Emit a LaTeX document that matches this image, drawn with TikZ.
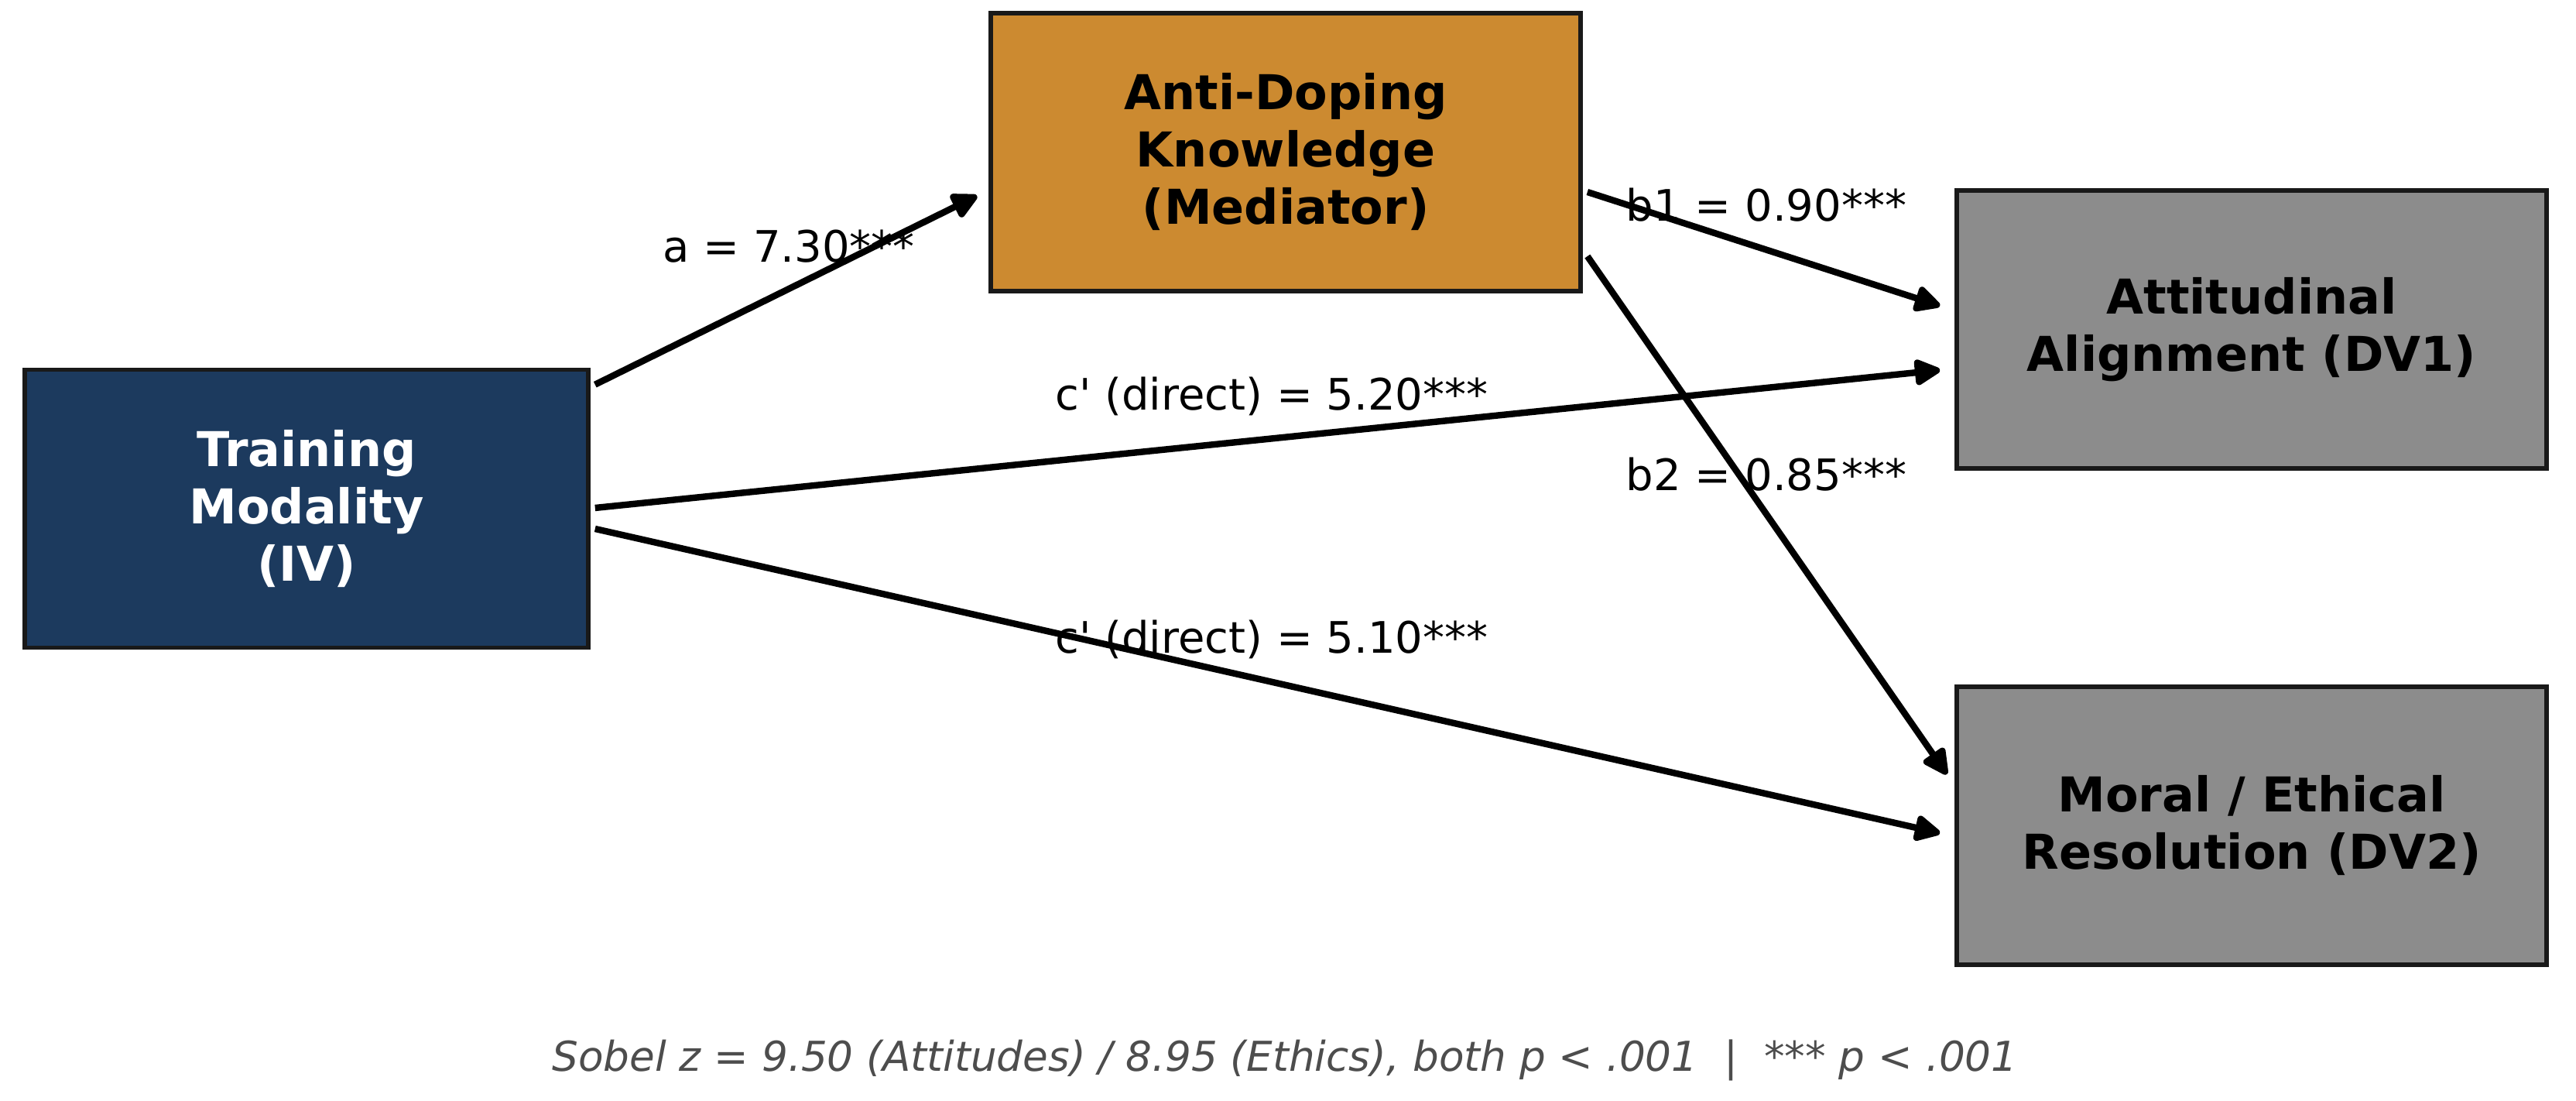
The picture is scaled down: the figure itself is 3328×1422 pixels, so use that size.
\documentclass[tikz,border=0pt]{standalone}
\usepackage{fontspec}
\setmainfont{DejaVu Sans}
\usetikzlibrary{arrows.meta,calc}
\definecolor{navy}{HTML}{1C3A5E}
\definecolor{ochre}{HTML}{CC8A30}
\definecolor{dvgrey}{HTML}{8C8C8C}
\definecolor{footgrey}{HTML}{4D4D4D}
\tikzset{
  box/.style={draw=black!90, line width=1.4pt, inner sep=0pt, minimum width=#1*0.25pt, minimum height=359*0.25pt, align=center, font=\bfseries\fontsize{15.5}{18.5}\selectfont},
  arr/.style={line width=2.1pt, -{Triangle[length=9.5pt,width=9pt,round]}},
  lab/.style={font=\fontsize{14}{16}\selectfont, inner sep=0pt}
}
\begin{document}
\begin{tikzpicture}[x={(0.25pt,0)}, y={(0,-0.25pt)}]
\useasboundingbox (0,0) rectangle (3328,1422);
\node[box=728, fill=navy, text=white] (iv) at (396,657) {Training\\Modality\\(IV)};
\node[box=762, fill=ochre, text=black] (med) at (1661,196.5) {Anti-Doping\\Knowledge\\(Mediator)};
\node[box=762, fill=dvgrey, text=black] (dv1) at (2909,425.5) {Attitudinal\\Alignment (DV1)};
\node[box=762, fill=dvgrey, text=black] (dv2) at (2909,1066.5) {Moral / Ethical\\Resolution (DV2)};
% labels
\node[lab] (la) at (1019,318) {a = 7.30***};
\node[lab] (lc1) at (1643,512) {c\textquotesingle{} (direct) = 5.20***};
\node[lab] (lc2) at (1643,826) {c\textquotesingle{} (direct) = 5.10***};
\node[lab] (lb1) at (2282,265) {b1 = 0.90***};
\node[lab] (lb2) at (2282,613) {b2 = 0.85***};
% arrows
\draw[arr] ($(iv.north east)+(6,22)$) -- ($(med.west)+(-15,56.5)$);
\draw[arr] ($(iv.east)+(6,-1)$) -- ($(dv1.west)+(-19,52.5)$);
\draw[arr] ($(iv.east)+(6,26)$) -- ($(dv2.west)+(-19,9.5)$);
\draw[arr] ($(med.east)+(6,51.5)$) -- ($(dv1.west)+(-19,-30.5)$);
\draw[arr] ($(med.east)+(6,134.5)$) -- ($(dv2.west)+(-10,-66.5)$);
% footer
\node[font=\itshape\fontsize{13.3}{16}\selectfont, text=footgrey, inner sep=0pt] (foot) at (1660,1369) {Sobel z = 9.50 (Attitudes) / 8.95 (Ethics), both p < .001\ \ |\ \ *** p < .001};
\end{tikzpicture}
\end{document}
